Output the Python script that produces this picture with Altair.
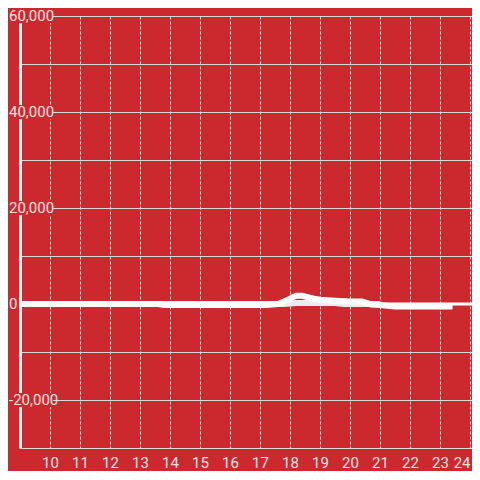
import altair as alt
import pandas as pd

BG = "#cc292e"
LABEL = "#f5e3e3"

# Series A (main white line)
xa = [9, 13.6, 13.8, 17.2, 17.6, 17.9, 18.2, 18.4, 18.8, 19.0, 19.5, 20.0, 20.4, 20.7, 21.0, 21.5, 23.42]
ya = [0, 0, -200, -200, 0, 800, 1700, 1700, 1100, 900, 700, 500, 500, -100, -200, -500, -500]
# Series B (lighter line underneath)
xb = [9, 17.8, 18.2, 19.5, 19.8, 21.0]
yb = [0, 0, 200, 200, 0, 0]

x_ticks = list(range(10, 25))
y_grid = list(range(-30000, 60001, 10000))
y_labels = [-20000, 0, 20000, 40000, 60000]

W = 452
H = 432

dfa = pd.DataFrame({"x": xa, "y": ya})
dfb = pd.DataFrame({"x": xb, "y": yb})
dfl = pd.DataFrame({"v": y_labels, "t": [f"{v:,}" for v in y_labels]})
dfl_box = dfl[dfl["v"] != 0]

xs = alt.Scale(domain=[9, 9 + W / 30], nice=False, zero=False)
ys = alt.Scale(domain=[-30000, 60000], nice=False)

xaxis = alt.Axis(values=x_ticks, tickCount=20, grid=True, gridDash=[3, 2], gridColor="#eeeeee",
                 gridWidth=1, ticks=False, domainColor="#dddddd", domainWidth=1,
                 labelColor=LABEL, labelFont="Roboto", labelFontSize=15,
                 labelPadding=7, labelOverlap=False, labelFlush=3,
                 title=None, zindex=0)
yaxis = alt.Axis(values=y_grid, grid=True, gridColor="#d9d9d9", gridWidth=1,
                 ticks=False, labels=False, domainColor="#f4f4f4", domainWidth=3,
                 title=None, zindex=0)

zero = alt.Chart(pd.DataFrame({"y": [0]})).mark_rule(color="white", strokeWidth=3).encode(
    y=alt.Y("y:Q", scale=ys, axis=yaxis),
    x=alt.value(0), x2=alt.value(W),
)

line_b = alt.Chart(dfb).mark_line(color="#ececec", strokeWidth=6, strokeCap="butt").encode(
    x=alt.X("x:Q", scale=xs, axis=xaxis),
    y=alt.Y("y:Q", scale=ys, axis=yaxis),
)
line_a = alt.Chart(dfa).mark_line(color="white", strokeWidth=6, strokeCap="butt").encode(
    x=alt.X("x:Q", scale=xs, axis=xaxis),
    y=alt.Y("y:Q", scale=ys, axis=yaxis),
)

boxes = alt.Chart(dfl_box).transform_calculate(
    lo="datum.v - 1450", hi="datum.v + 1450"
).mark_rect(color=BG).encode(
    y=alt.Y("lo:Q", scale=ys, axis=yaxis), y2="hi:Q",
    x=alt.value(-12), x2=alt.value(33),
)

texts = alt.Chart(dfl).mark_text(align="left", baseline="middle", font="Roboto",
                                  fontSize=15, color=LABEL).encode(
    y=alt.Y("v:Q", scale=ys, axis=yaxis), text="t:N", x=alt.value(-11),
)

chart = alt.layer(zero, boxes, line_b, line_a, texts).properties(
    width=W, height=H,
    background=BG,
    padding={"left": 12, "top": 8, "right": 0, "bottom": 23},
    autosize=alt.AutoSizeParams(type="none"),
).configure_view(stroke=None)

chart.save("out.html", embed_options={"renderer": "svg", "actions": False})
